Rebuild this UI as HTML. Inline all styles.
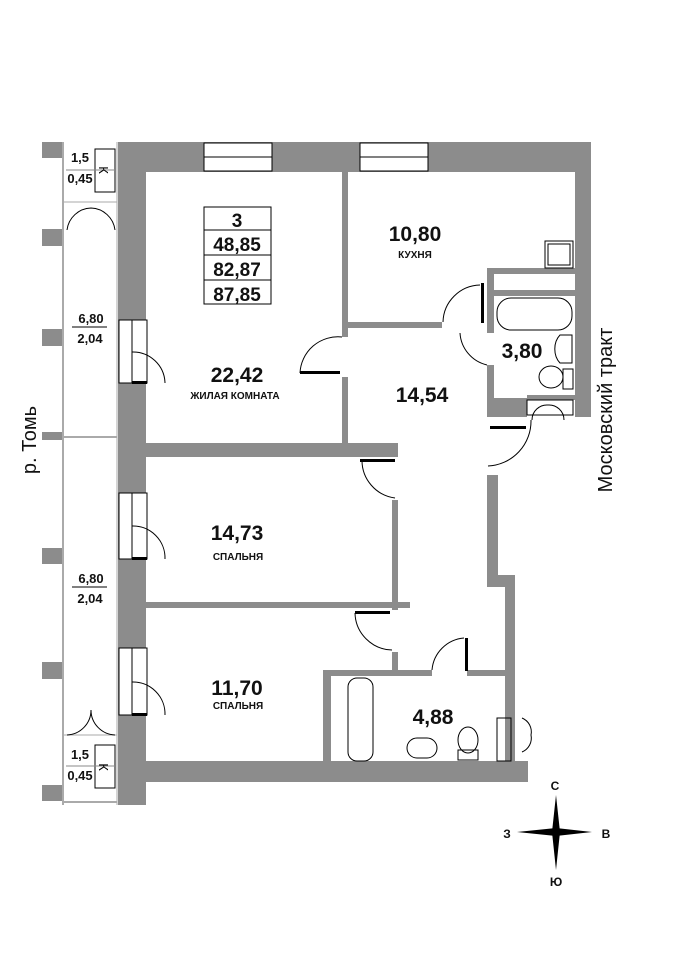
<!DOCTYPE html>
<html><head><meta charset="utf-8"><style>
html,body{margin:0;padding:0;background:#fff;}
svg{display:block;font-family:"Liberation Sans",sans-serif;}
</style></head><body>
<svg width="684" height="960" viewBox="0 0 684 960" xmlns="http://www.w3.org/2000/svg">
<g fill="#8c8c8c">
<rect x="42" y="142" width="21" height="16"/>
<rect x="42" y="229" width="21" height="17"/>
<rect x="42" y="329" width="21" height="17"/>
<rect x="42" y="432" width="21" height="8"/>
<rect x="42" y="548" width="21" height="16"/>
<rect x="42" y="662" width="21" height="17"/>
<rect x="42" y="785" width="21" height="16"/>
<rect x="118" y="142" width="28" height="663"/>
<rect x="118" y="142" width="473" height="30"/>
<rect x="575" y="142" width="16" height="275"/>
<rect x="118" y="761" width="410" height="21"/>
<rect x="342" y="172" width="6" height="165"/>
<rect x="342" y="377" width="6" height="68"/>
<rect x="342" y="322" width="100" height="6"/>
<rect x="146" y="443" width="252" height="14"/>
<rect x="146" y="602" width="264" height="6"/>
<rect x="392" y="500" width="6" height="110"/>
<rect x="392" y="652" width="6" height="20"/>
<rect x="323" y="670" width="109" height="6"/>
<rect x="467" y="670" width="38" height="6"/>
<rect x="323" y="670" width="8" height="95"/>
<rect x="487" y="475" width="11" height="112"/>
<rect x="487" y="575" width="28" height="12"/>
<rect x="505" y="575" width="10" height="190"/>
<rect x="487" y="268" width="88" height="6"/>
<rect x="487" y="268" width="7" height="65"/>
<rect x="487" y="290" width="88" height="6"/>
<rect x="487" y="365" width="7" height="52"/>
<rect x="487" y="398" width="40" height="19"/>
<rect x="527" y="395" width="48" height="5"/>
</g>
<g fill="#fff">
<rect x="497" y="274" width="6" height="16"/><rect x="510" y="274" width="14" height="16"/>
<rect x="530" y="274" width="18" height="16"/><rect x="553" y="274" width="6" height="16"/><rect x="563" y="274" width="10" height="16"/>
<rect x="331" y="678" width="8" height="6"/><rect x="331" y="690" width="8" height="10"/><rect x="331" y="712" width="8" height="10"/><rect x="331" y="735" width="8" height="10"/><rect x="331" y="750" width="8" height="8"/>
</g>
<g fill="#fff" stroke="#000" stroke-width="1">
<rect x="204" y="143" width="68" height="28"/>
<rect x="360" y="143" width="68" height="28"/>
<rect x="119" y="320" width="28" height="63"/>
<rect x="119" y="493" width="28" height="66"/>
<rect x="119" y="648" width="28" height="67"/>
</g>
<g fill="none" stroke="#000" stroke-width="1">
<line x1="204" y1="157" x2="272" y2="157"/>
<line x1="360" y1="157" x2="428" y2="157"/>
<line x1="132" y1="320" x2="132" y2="383"/>
<line x1="132" y1="493" x2="132" y2="559"/>
<line x1="132" y1="648" x2="132" y2="715"/>
<path d="M132 352 A32 32 0 0 1 165 383"/><path d="M132 526 A32 32 0 0 1 165 559"/><path d="M132 682 A32 32 0 0 1 165 715"/>
<line x1="63" y1="142" x2="63" y2="805" stroke="#aaa" stroke-width="2"/>
<line x1="117" y1="142" x2="117" y2="805" stroke="#aaa"/>
<line x1="63" y1="437" x2="117" y2="437" stroke="#aaa" stroke-width="2"/>
<line x1="63" y1="802" x2="117" y2="802" stroke="#aaa" stroke-width="2"/>
<line x1="63" y1="202" x2="117" y2="202" stroke="#aaa"/>
<line x1="63" y1="735" x2="117" y2="735" stroke="#aaa"/>
<rect x="95" y="149" width="20" height="43"/>
<rect x="95" y="745" width="20" height="43"/>
<line x1="66" y1="170" x2="115" y2="170" stroke="#888"/>
<line x1="66" y1="766" x2="115" y2="766" stroke="#888"/>
<path d="M67 230 A25 25 0 0 1 91 208 A25 25 0 0 1 115 230"/>
<path d="M67 735 A25 25 0 0 0 91 710 A25 25 0 0 0 115 735"/>
<path d="M300 373 A38 38 0 0 1 342 337"/>
<path d="M362 460 A38 38 0 0 0 395 498"/>
<path d="M355 613 A38 38 0 0 0 392 650"/>
<path d="M432 670 A35 35 0 0 1 464 638"/>
<path d="M443 322 A38 38 0 0 1 480 285"/>
<path d="M460 333 A35 35 0 0 0 487 365"/>
<path d="M488 466 A45 45 0 0 0 531 420"/>
<path d="M532 420 A15 15 0 0 1 548 405 A15 15 0 0 1 564 420"/>
<path d="M522 718 A15 15 0 0 1 531 735 A15 15 0 0 1 522 752"/>
<rect x="545" y="241" width="28" height="27"/><rect x="548" y="244" width="22" height="21"/>
<rect x="497" y="298" width="75" height="32" rx="14"/>
<path d="M572 335 L560 335 A14 18 0 0 0 560 363 L572 363 Z"/>
<ellipse cx="551" cy="377" rx="12" ry="11"/><rect x="563" y="369" width="10" height="20"/>
<rect x="527" y="400" width="46" height="15"/>
<rect x="348" y="678" width="25" height="83" rx="9"/>
<rect x="407" y="738" width="30" height="20" rx="10"/>
<ellipse cx="468" cy="740" rx="10" ry="13"/><rect x="458" y="750" width="20" height="10"/>
<rect x="497" y="718" width="14" height="43"/>
</g>
<g fill="#000">
<rect x="490" y="426" width="36" height="3"/>
<rect x="481" y="283" width="3" height="40"/>
<rect x="300" y="371" width="40" height="3"/>
<rect x="360" y="459" width="35" height="3"/>
<rect x="355" y="611" width="35" height="3"/>
<rect x="465" y="638" width="3" height="33"/>
<rect x="132" y="381" width="15" height="3"/><rect x="132" y="557" width="15" height="3"/><rect x="132" y="713" width="15" height="3"/>
</g>
<g fill="none" stroke="#000"><rect x="204" y="207" width="67" height="97"/><line x1="204" y1="230" x2="271" y2="230"/><line x1="204" y1="255" x2="271" y2="255"/><line x1="204" y1="280" x2="271" y2="280"/></g>
<g text-anchor="middle" font-weight="bold" fill="#111">
<text x="237" y="227" font-size="19">3</text>
<text x="237" y="251" font-size="19">48,85</text>
<text x="237" y="276" font-size="19">82,87</text>
<text x="237" y="301" font-size="19">87,85</text>
<text x="237" y="382" font-size="21">22,42</text>
<text x="235" y="399" font-size="10">ЖИЛАЯ КОМНАТА</text>
<text x="415" y="241" font-size="21">10,80</text>
<text x="415" y="258" font-size="10">КУХНЯ</text>
<text x="522" y="358" font-size="21">3,80</text>
<text x="422" y="402" font-size="21">14,54</text>
<text x="237" y="540" font-size="21">14,73</text>
<text x="238" y="560" font-size="10">СПАЛЬНЯ</text>
<text x="237" y="695" font-size="21">11,70</text>
<text x="238" y="709" font-size="10">СПАЛЬНЯ</text>
<text x="433" y="724" font-size="21">4,88</text>
<g font-size="13">
<text x="80" y="162">1,5</text><text x="80" y="183">0,45</text>
<text x="80" y="759">1,5</text><text x="80" y="780">0,45</text>
<text x="91" y="323">6,80</text><text x="90" y="343">2,04</text>
<text x="91" y="583">6,80</text><text x="90" y="603">2,04</text>
</g>
<text x="555" y="790" font-size="12">С</text>
<text x="507" y="838" font-size="12">З</text>
<text x="606" y="838" font-size="12">В</text>
<text x="556" y="886" font-size="12">Ю</text>
</g>
<g stroke="#000"><line x1="72" y1="327" x2="107" y2="327"/><line x1="72" y1="587" x2="107" y2="587"/></g>
<text x="105" y="176" font-size="13" transform="rotate(90 105 170)" text-anchor="middle">К</text>
<text x="105" y="773" font-size="13" transform="rotate(90 105 767)" text-anchor="middle">К</text>
<g fill="#000">
<polygon points="556,795 560,832 552,832"/><polygon points="556,870 560,832 552,832"/>
<polygon points="517,832 556,828 556,836"/><polygon points="592,832 556,828 556,836"/>
</g>
<text x="36" y="440" font-size="20" transform="rotate(-90 36 440)" text-anchor="middle" fill="#111">р. Томь</text>
<text x="612" y="410" font-size="20" transform="rotate(-90 612 410)" text-anchor="middle" fill="#111">Московский тракт</text>
</svg>
</body></html>
